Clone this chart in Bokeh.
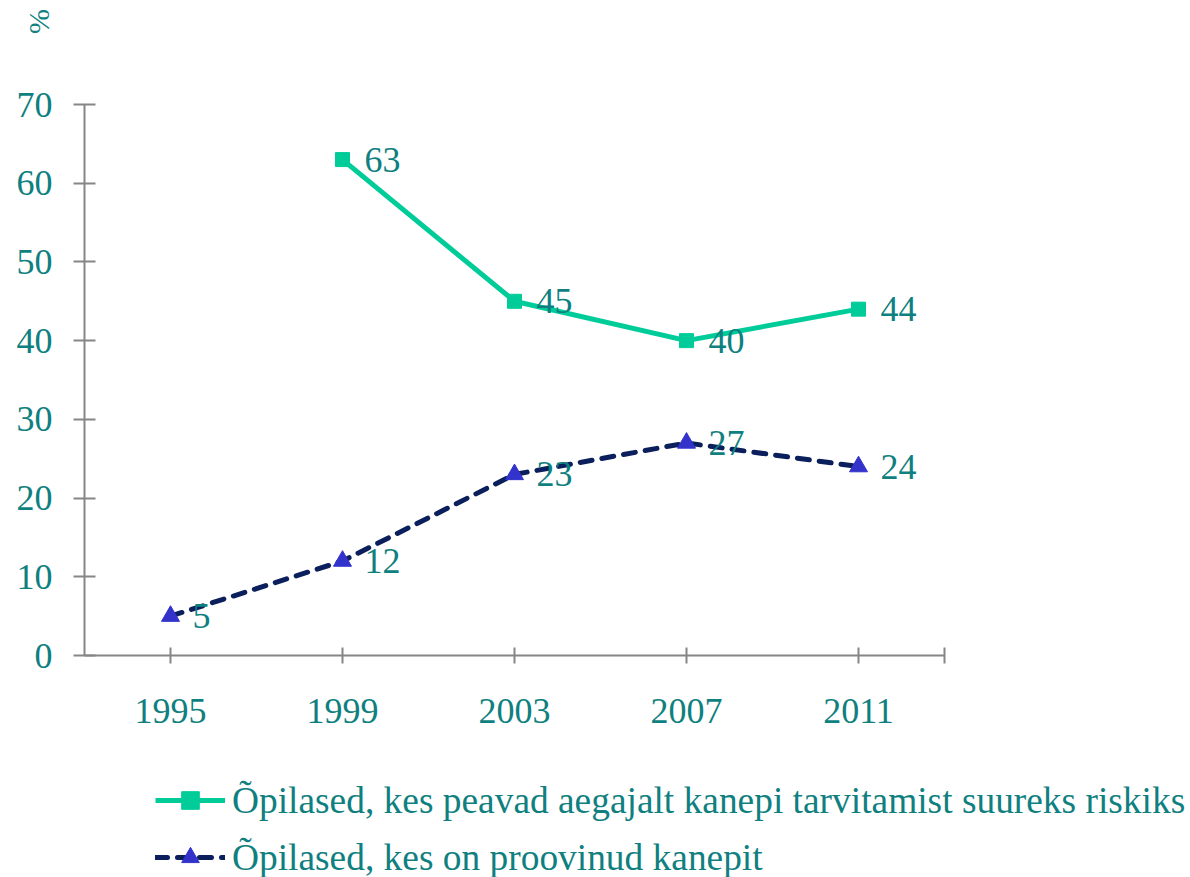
from bokeh.plotting import figure
from bokeh.models import (Range1d, FixedTicker, Legend, LegendItem, Label,
                          ColumnDataSource, LabelSet, LinearAxis)
from bokeh.embed import file_html
from bokeh.resources import INLINE
from bokeh.core.properties import value

years = [1995, 1999, 2003, 2007, 2011]
risk_years = [1999, 2003, 2007, 2011]
risk_vals = [63, 45, 40, 44]
tried_vals = [5, 12, 23, 27, 24]
y_ticks = [0, 10, 20, 30, 40, 50, 60, 70]
series_names = ["Õpilased, kes peavad aegajalt kanepi tarvitamist suureks riskiks",
                "Õpilased, kes on proovinud kanepit"]
unit_label = "%"

FONT = "Liberation Serif"
TEXT = "#0f7f7f"
GREEN = "#00cc99"
NAVY = "#0a1f5c"
TRI = "#3333cc"
AXIS = "#868686"

# canvas / plot-area geometry (pixels)
W, H = 1188, 877
AX_L, AX_R, AX_T, AX_B = 84, 944, 104, 655
X0, X1 = 1993, 2013
Y0, Y1 = 0, 70
sx = (AX_R - AX_L) / (X1 - X0)
sy = (AX_B - AX_T) / (Y1 - Y0)
x_start = X0 - AX_L / sx
x_end = X0 + (W - AX_L) / sx
y_end = Y1 + AX_T / sy
y_start = Y0 - (H - AX_B) / sy

p = figure(width=W, height=H, output_backend="svg", toolbar_location=None,
           x_range=Range1d(x_start, x_end), y_range=Range1d(y_start, y_end),
           x_axis_location=None, y_axis_location=None,
           min_border=0)
p.outline_line_color = None
p.grid.visible = False
p.background_fill_color = "white"
p.border_fill_color = "white"

xaxis = LinearAxis(fixed_location=Y0, bounds=(X0, X1),
                   ticker=FixedTicker(ticks=years + [X1]),
                   major_label_overrides={X1: ""})
yaxis = LinearAxis(fixed_location=X0, bounds=(Y0, Y1),
                   ticker=FixedTicker(ticks=y_ticks))
for ax in (xaxis, yaxis):
    ax.axis_line_color = AXIS
    ax.axis_line_width = 2
    ax.major_tick_line_color = AXIS
    ax.major_tick_line_width = 2
    ax.minor_tick_line_color = None
    ax.major_label_text_font = FONT
    ax.major_label_text_font_size = "36px"
    ax.major_label_text_color = TEXT
xaxis.major_tick_in = 8
xaxis.major_tick_out = 8
xaxis.major_label_standoff = 35
yaxis.major_tick_in = 11
yaxis.major_tick_out = 11
yaxis.major_label_standoff = 21
p.add_layout(xaxis, "below")
p.add_layout(yaxis, "left")

# series
src1 = ColumnDataSource(dict(x=risk_years, y=risk_vals, t=[str(v) for v in risk_vals]))
src2 = ColumnDataSource(dict(x=years, y=tried_vals, t=[str(v) for v in tried_vals]))

l1 = p.line("x", "y", source=src1, line_color=GREEN, line_width=5)
m1 = p.scatter("x", "y", source=src1, marker="square", size=14,
               fill_color=GREEN, line_color=GREEN)
l2 = p.line("x", "y", source=src2, line_color=NAVY, line_width=5,
            line_dash="12 10", line_cap="round")
m2 = p.scatter("x", "y", source=src2, marker="triangle", size=18,
               fill_color=TRI, line_color=TRI)

for src in (src1, src2):
    p.add_layout(LabelSet(x="x", y="y", text="t", source=src, x_offset=22,
                          text_font=value(FONT), text_font_size="36px",
                          text_color=TEXT, text_baseline="middle",
                          text_align="left"))

# "%" label at top-left
p.add_layout(Label(x=X0 + (38 - AX_L) / sx, y=Y1 + (AX_T - 21) / sy,
                   text=unit_label, angle=1.5708,
                   text_font=FONT, text_font_size="30px",
                   text_color=TEXT, text_align="center",
                   text_baseline="middle"))

ROW = 44
GAP = 57 - ROW
legend = Legend(items=[LegendItem(label=series_names[0], renderers=[l1, m1]),
                       LegendItem(label=series_names[1], renderers=[l2, m2])],
                location=(155, H - (800 - ROW / 2 + 57 + ROW)), orientation="vertical",
                padding=0, margin=0, spacing=GAP,
                glyph_width=70, glyph_height=ROW, label_height=ROW,
                label_standoff=7,
                label_text_font=FONT, label_text_font_size="37.4px",
                label_text_color=TEXT, label_text_baseline="middle",
                border_line_color=None, background_fill_alpha=0)
p.add_layout(legend, "center")

open("out.html", "w").write(file_html(p, INLINE))
